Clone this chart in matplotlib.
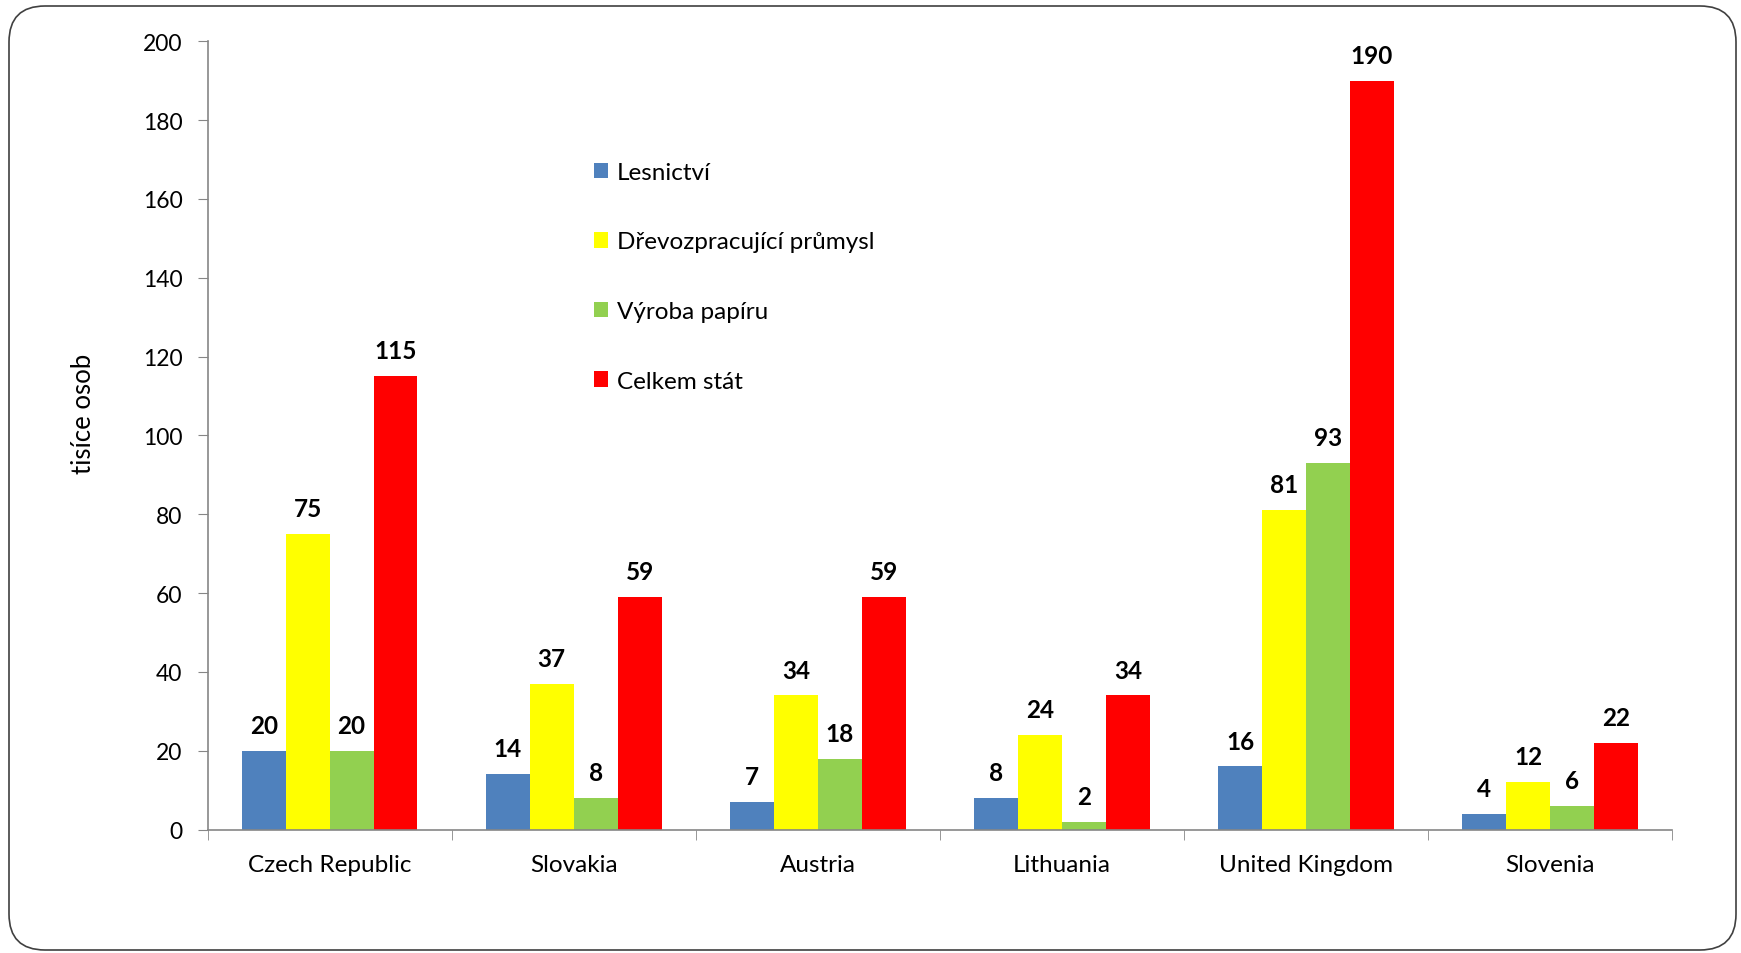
import numpy as np
import matplotlib.pyplot as plt
from matplotlib.patches import FancyBboxPatch

countries = ["Czech Republic", "Slovakia", "Austria", "Lithuania", "United Kingdom", "Slovenia"]
series_names = ["Lesnictví", "Dřevozpracující průmysl", "Výroba papíru", "Celkem stát"]
lesnictvi = [20, 14, 7, 8, 16, 4]
drevo = [75, 37, 34, 24, 81, 12]
papir = [20, 8, 18, 2, 93, 6]
celkem = [115, 59, 59, 34, 190, 22]
colors = ["#4F81BD", "#FFFF00", "#92D050", "#FF0000"]

plt.rcParams['font.family'] = ['Lato', 'DejaVu Sans']

W, H = 1741, 954
fig = plt.figure(figsize=(W / 100, H / 100), dpi=100)

# rounded frame (pixel units -> inches via dpi_scale_trans)
frame = FancyBboxPatch((9 / 100, (H - 951) / 100), (1736 - 9) / 100, (951 - 7) / 100,
                       boxstyle="round,pad=0,rounding_size=0.36",
                       transform=fig.dpi_scale_trans, facecolor='none',
                       edgecolor='#404040', linewidth=1.2, zorder=-1)
fig.patches.append(frame)

ax = fig.add_axes([207.6 / W, 1 - 830.5 / H, (1672 - 207.6) / W, (830.5 - 42.2) / H])
ax.patch.set_alpha(0)

x = np.arange(len(countries))
bw = 0.18
for i, (vals, name) in enumerate(zip([lesnictvi, drevo, papir, celkem], series_names)):
    pos = x + (i - 1.5) * bw
    bars = ax.bar(pos, vals, bw, color=colors[i], label=name, zorder=2)
    for b, v in zip(bars, vals):
        ax.annotate(str(v), (b.get_x() + b.get_width() / 2, v), xytext=(0, 10),
                    textcoords='offset points', ha='center', va='bottom',
                    fontsize=17.5, fontweight='bold')

ax.set_xlim(-0.5, len(countries) - 0.5)
ax.set_ylim(0, 200)
ax.set_yticks(range(0, 201, 20))
ax.set_xticks(x)
ax.set_xticklabels(countries)
ax.set_xticks(np.arange(-0.5, len(countries)), minor=True)
ax.tick_params(axis='x', which='major', length=0, pad=18, labelsize=17.5)
ax.tick_params(axis='x', which='minor', length=7, color='#868686')
ax.tick_params(axis='y', length=7, color='#868686', labelsize=16.5, pad=11)
for s in ['top', 'right']:
    ax.spines[s].set_visible(False)
for s in ['left', 'bottom']:
    ax.spines[s].set_color('#868686')
    ax.spines[s].set_linewidth(1.2)

ax.set_ylabel("tisíce osob", fontsize=18.5)
ax.yaxis.set_label_coords(-0.076, 0.528)

ax.legend(loc='upper left', bbox_to_anchor=(572 / W, 1 - 141 / H),
          bbox_transform=fig.transFigure, frameon=False, fontsize=17.5,
          handlelength=0.6, handleheight=0.6, handletextpad=0.35,
          labelspacing=2.0)

plt.savefig('out.png', dpi=100)
